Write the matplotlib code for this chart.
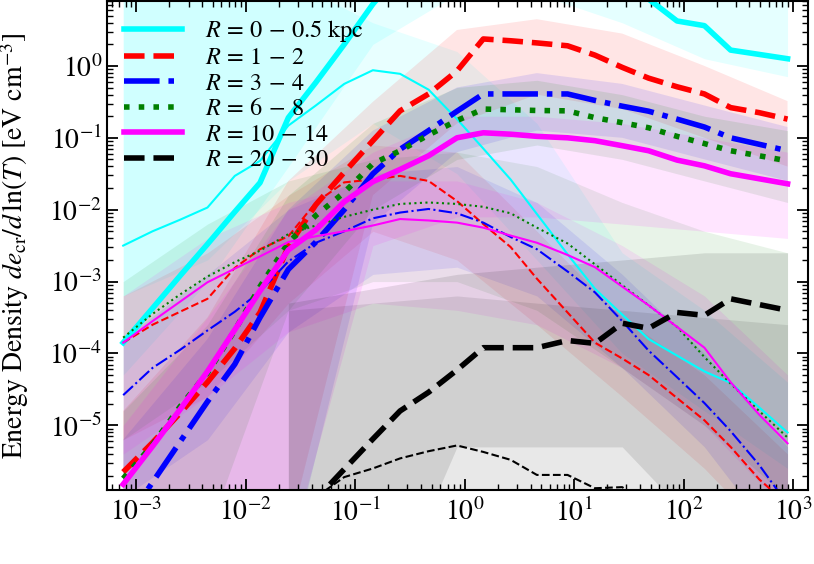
import numpy as np
import matplotlib
matplotlib.use("Agg")
import matplotlib.pyplot as plt

plt.rcParams['font.family'] = 'STIXGeneral'
plt.rcParams['mathtext.fontset'] = 'stix'

# kinetic energy grid [GeV]
T = [7.59e-4, 1.41e-3, 2.51e-3, 4.47e-3, 7.94e-3, 1.35e-2, 2.45e-2, 4.37e-2,
     7.94e-2, 0.145, 0.257, 0.468, 0.851, 1.48, 2.63, 4.57, 8.71, 15.5, 27.5,
     47.9, 87.1, 155.0, 269.0, 490.0, 891.0]
# coarser grid for the shaded spreads
T_band = [7.59e-4, 4.47e-3, 2.45e-2, 0.145, 0.851, 4.57, 27.5, 155.0, 891.0]

nan = np.nan

# log10 energy density, thick = main, thin = secondary
log_r0_thick = [-3.85, -3.37, -2.92, -2.48, -2.03, -1.625, -0.72, -0.23, 0.30, 0.86, 1.3, 1.6, 1.8,
                1.9, 1.9, 1.85, 1.7, 1.5, 1.2, 0.93, 0.625, 0.56, 0.22, 0.16, 0.10]
log_r0_thin = [-2.5, -2.3, -2.14, -1.97, -1.53, -1.32, -0.83, -0.55, -0.25, -0.06, -0.11, -0.33, -0.74,
               -1.15, -1.58, -2.06, -2.62, -3.1, -3.46, -3.80, -4.03, -4.25, -4.41, -4.75, -5.10]
log_r1_thick = [-5.65, -5.24, -4.83, -4.40, -3.93, -3.43, -2.51, -1.93, -1.48, -1.04, -0.625, -0.39, -0.07,
                0.375, 0.35, 0.32, 0.28, 0.15, -0.02, -0.17, -0.29, -0.39, -0.58, -0.65, -0.74]
log_r1_thin = [-3.85, -3.6, -3.42, -3.24, -2.81, -2.55, -2.37, -1.9, -1.62, -1.58, -1.53, -1.60, -1.88,
               -2.2, -2.52, -2.96, -3.43, -3.85, -4.07, -4.30, -4.62, -4.93, -5.30, -5.75, -6.1]
log_r3_thick = [-6.4, -5.79, -5.23, -4.67, -4.15, -3.50, -2.83, -2.45, -2.0, -1.5, -1.16, -0.9, -0.63,
                -0.39, -0.39, -0.39, -0.39, -0.48, -0.56, -0.63, -0.74, -0.85, -1.0, -1.09, -1.18]
log_r3_thin = [-4.58, -4.2, -3.95, -3.68, -3.42, -3.14, -2.72, -2.46, -2.30, -2.12, -2.04, -1.99, -2.05,
               -2.18, -2.38, -2.55, -2.86, -3.15, -3.55, -3.96, -4.33, -4.69, -5.08, -5.55, -6.1]
log_r6_thick = [-5.74, -5.27, -4.74, -4.27, -3.68, -3.07, -2.46, -2.08, -1.76, -1.36, -1.18, -0.96, -0.76,
                -0.60, -0.61, -0.62, -0.625, -0.72, -0.79, -0.86, -0.98, -1.08, -1.18, -1.25, -1.32]
log_r6_thin = [-3.78, -3.45, -3.18, -2.93, -2.73, -2.57, -2.34, -2.22, -2.1, -2.0, -1.92, -1.90, -1.92,
               -1.96, -2.05, -2.25, -2.47, -2.76, -3.05, -3.33, -3.63, -4.05, -4.42, -4.8, -5.17]
log_r10_thick = [-5.82, -5.29, -4.78, -4.25, -3.67, -3.13, -2.56, -2.28, -1.89, -1.61, -1.44, -1.25, -1.0,
                 -0.93, -0.95, -0.98, -1.0, -1.04, -1.11, -1.18, -1.31, -1.39, -1.5, -1.57, -1.64]
log_r10_thin = [-3.85, -3.55, -3.28, -3.01, -2.82, -2.65, -2.45, -2.37, -2.30, -2.22, -2.13, -2.15, -2.18,
                -2.25, -2.36, -2.46, -2.63, -2.8, -3.07, -3.33, -3.63, -3.92, -4.40, -4.85, -5.25]
log_r20_thick = [nan, nan, nan, nan, nan, nan, -6.4, -6.03, -5.61, -5.19, -4.8, -4.54, -4.23,
                 -3.92, -3.92, -3.92, -3.82, -3.86, -3.58, -3.65, -3.43, -3.47, -3.24, -3.32, -3.40]
log_r20_thin = [nan, nan, nan, nan, nan, nan, nan, -6.0, -5.72, -5.6, -5.46, -5.36, -5.28,
                -5.37, -5.48, -5.69, -5.69, -5.875, -5.86, -6.1, -6.3, -6.6, -7.0, -7.4, -7.8]

# log10 spreads (lower / upper) on T_band
band_r0_thick = ([-4.3, -3.0, -1.4, 0.3, 1.0, 1.0, 0.6, 0.1, -0.15],
                 [1.5, 1.5, 1.5, 2.0, 2.5, 2.5, 2.0, 1.2, 0.9])
band_r0_thin = ([-3.2, -2.7, -1.6, -0.8, -1.5, -2.7, -4.0, -4.8, -5.6],
                [1.5, 1.5, 1.2, 0.6, 0.2, -0.8, -2.6, -3.4, -4.4])
band_r1_thick = ([-8.0, -6.6, -6.5, -1.8, -0.8, -0.4, -0.6, -1.0, -1.4],
                 [-4.8, -3.5, -1.6, -0.5, 0.5, 0.65, 0.45, 0.0, -0.49])
band_r1_thin = ([-5.2, -4.6, -3.3, -2.3, -2.7, -3.6, -4.6, -5.6, -6.8],
                [-3.2, -2.6, -1.8, -1.1, -1.2, -2.3, -3.5, -4.3, -5.4])
band_r3_thick = ([-8.0, -7.0, -7.0, -2.2, -1.2, -0.9, -1.0, -1.3, -1.6],
                 [-5.2, -3.8, -2.0, -0.9, -0.3, -0.1, -0.25, -0.55, -0.85])
band_r3_thin = ([-6.0, -5.2, -3.7, -2.9, -2.8, -3.2, -4.2, -5.3, -6.8],
                [-3.8, -2.9, -2.0, -1.5, -1.4, -1.9, -2.9, -4.0, -5.3])
band_r6_thick = ([-8.0, -6.5, -3.4, -2.0, -1.3, -1.1, -1.3, -1.6, -1.9],
                 [-4.8, -3.6, -1.8, -0.8, -0.3, -0.2, -0.4, -0.7, -0.9])
band_r6_thin = ([-5.2, -4.4, -3.4, -3.0, -3.0, -3.4, -4.2, -5.0, -6.0],
                [-3.0, -2.2, -1.6, -1.3, -1.2, -1.4, -1.9, -2.3, -2.6])
band_r10_thick = ([-8.0, -6.8, -6.8, -2.5, -2.1, -2.1, -2.2, -2.3, -2.4],
                  [-5.0, -3.5, -2.0, -1.2, -0.7, -0.7, -0.8, -1.0, -1.2])
band_r10_thin = ([-5.4, -4.6, -3.7, -3.3, -3.4, -3.6, -4.2, -5.0, -6.2],
                 [-3.2, -2.4, -1.9, -1.6, -1.6, -1.9, -2.5, -3.2, -4.3])
band_r20_thick = ([nan, nan, -8, -8, -5.3, -5.3, -5.3, -6.5, -8],
                  [nan, nan, -3.3, -3.1, -2.9, -2.8, -2.7, -2.6, -2.6])
band_r20_thin = ([nan, nan, -8, -8, -8, -8, -8, -8, -8],
                 [nan, nan, -3.4, -3.3, -3.2, -3.3, -3.4, -3.5, -3.6])

labels = [r'$R\,=\,0\,-\,0.5\ \mathrm{kpc}$', r'$R\,=\,1\,-\,2$', r'$R\,=\,3\,-\,4$',
          r'$R\,=\,6\,-\,8$', r'$R\,=\,10\,-\,14$', r'$R\,=\,20\,-\,30$']
colors = ['cyan', 'red', 'blue', 'green', 'magenta', 'black']
styles = ['-', '--', '-.', ':', '-', '--']

thick = [log_r0_thick, log_r1_thick, log_r3_thick, log_r6_thick, log_r10_thick, log_r20_thick]
thin = [log_r0_thin, log_r1_thin, log_r3_thin, log_r6_thin, log_r10_thin, log_r20_thin]
bands_thick = [band_r0_thick, band_r1_thick, band_r3_thick, band_r6_thick, band_r10_thick, band_r20_thick]
bands_thin = [band_r0_thin, band_r1_thin, band_r3_thin, band_r6_thin, band_r10_thin, band_r20_thin]

fig = plt.figure(figsize=(8.14, 5.64), dpi=100)
ax = fig.add_axes([107 / 814, 1 - 490 / 564, 701 / 814, 489 / 564])

for c, bk, bn in zip(colors, bands_thick, bands_thin):
    ax.fill_between(T_band, 10.0 ** np.array(bk[0]), 10.0 ** np.array(bk[1]),
                    color=c, alpha=0.1, lw=0)
    ax.fill_between(T_band, 10.0 ** np.array(bn[0]), 10.0 ** np.array(bn[1]),
                    color=c, alpha=0.09, lw=0)

for c, ls, lab, yk, yn in zip(colors, styles, labels, thick, thin):
    ax.plot(T, 10.0 ** np.array(yk), color=c, ls=ls, lw=4, label=lab)
    ax.plot(T, 10.0 ** np.array(yn), color=c, ls=ls, lw=1.5)

ax.set_xscale('log')
ax.set_yscale('log')
ax.set_xlim(5.4e-4, 1.37e3)
ax.set_ylim(1.26e-6, 8.0)

ax.set_ylabel(r'Energy Density $de_{\rm cr}/d\,\ln(T)$ [eV cm$^{-3}$]', fontsize=20)
ax.yaxis.set_label_coords(-0.108, 0.5)
ax.tick_params(which='both', direction='in', top=True, right=True, labelsize=20)
ax.tick_params(axis='x', which='major', pad=6)
ax.tick_params(which='major', length=8, width=1.3)
ax.tick_params(which='minor', length=4, width=1.0)
for s in ax.spines.values():
    s.set_linewidth(1.5)

ax.legend(loc='upper left', frameon=False, fontsize=17.5, handlelength=2.4,
          handletextpad=0.95, labelspacing=0.14, borderaxespad=0.3)

fig.savefig('out.png', dpi=100)
